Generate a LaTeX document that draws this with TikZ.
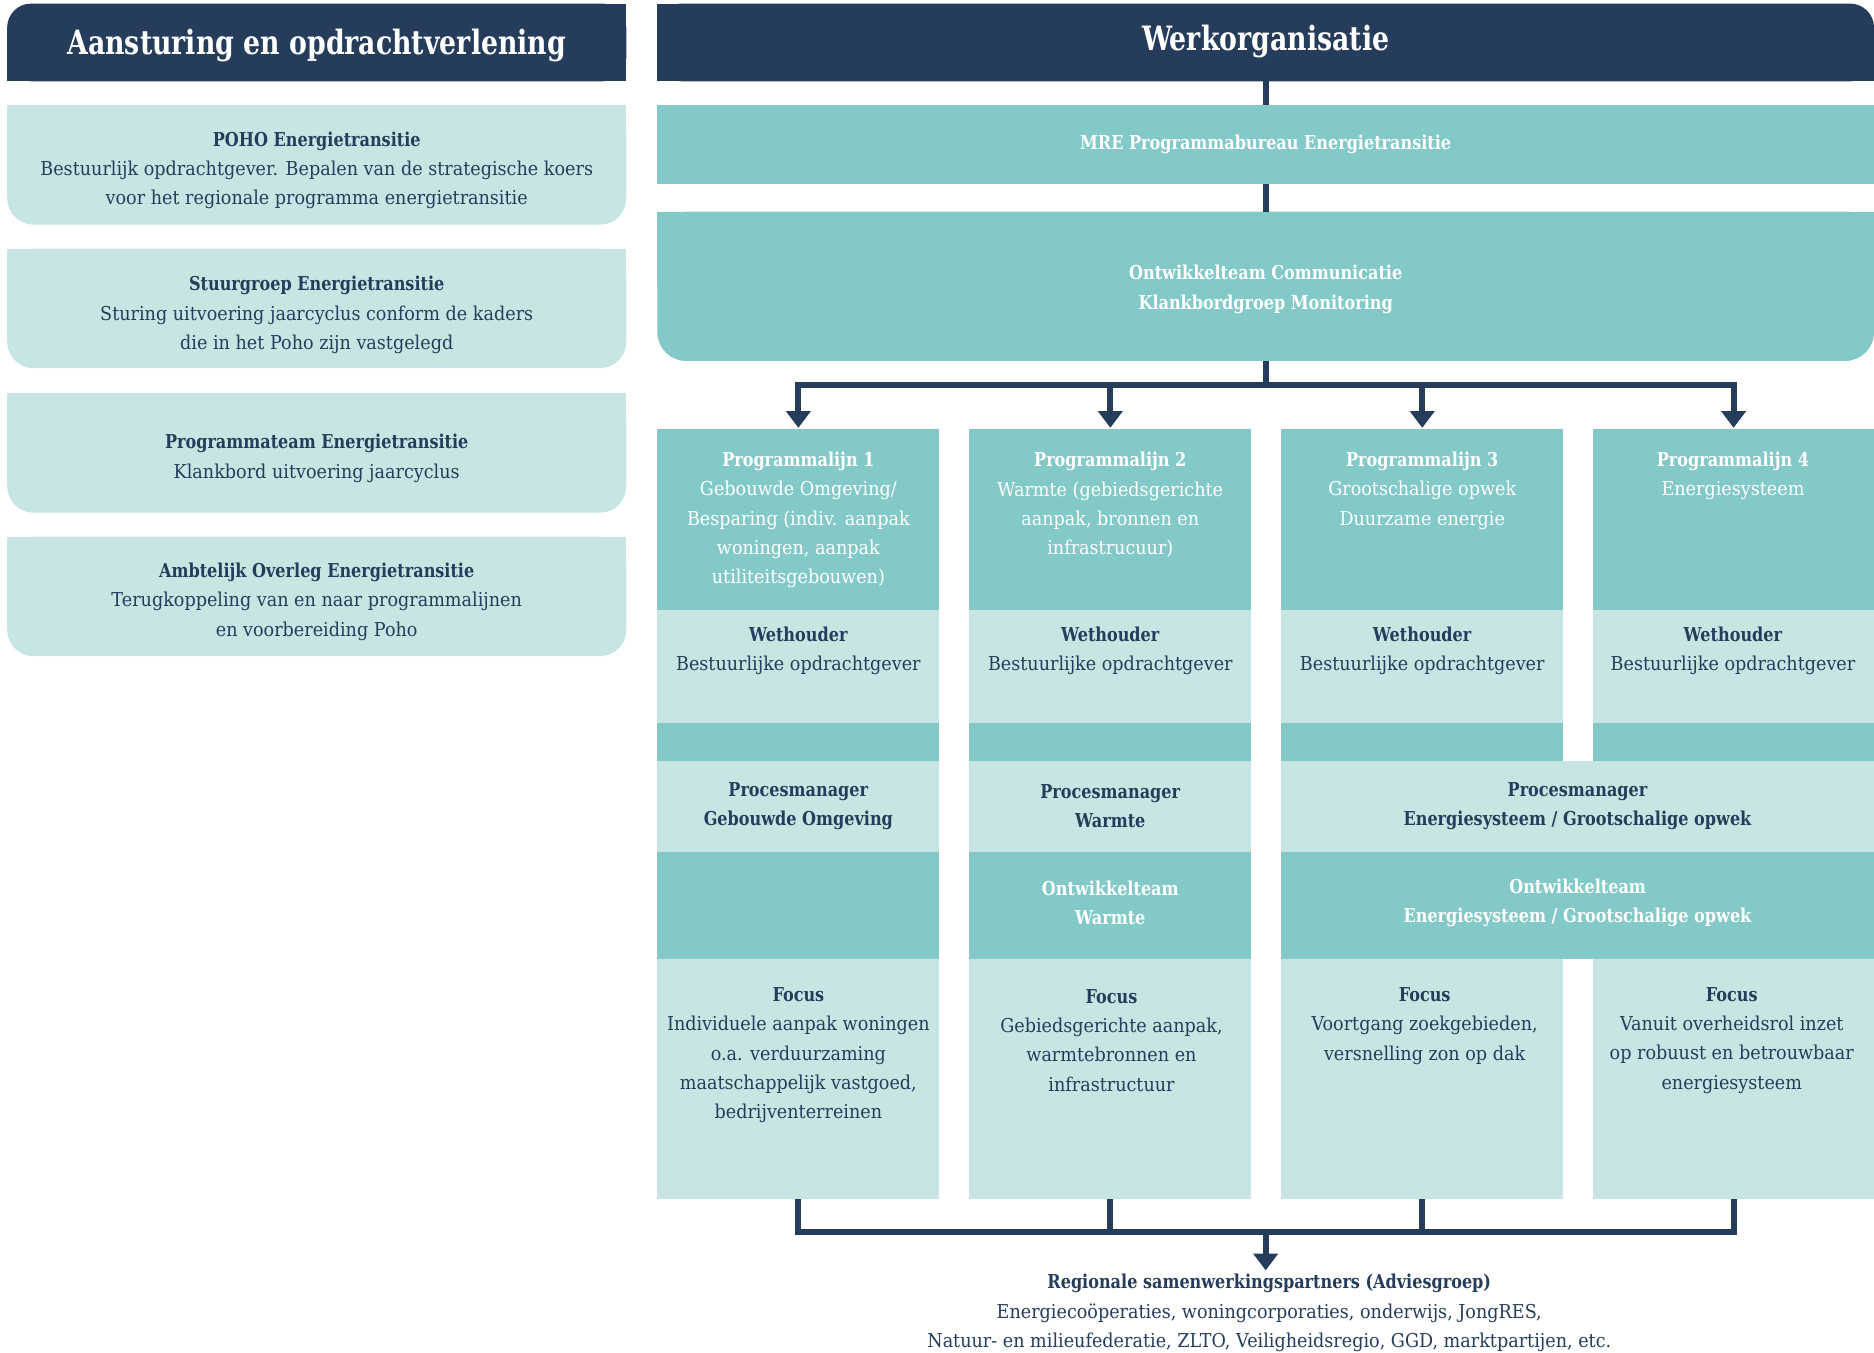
\documentclass[tikz,border=0pt]{standalone}
\usepackage{fontspec}
\setmainfont{DejaVu Serif}[UprightFeatures={FakeStretch=0.92},BoldFeatures={FakeStretch=0.84}]
\newfontfamily\titlefont{DejaVu Serif}[FakeStretch=0.8]
\usetikzlibrary{arrows.meta}
\definecolor{navy}{HTML}{253D5B}
\definecolor{tealM}{HTML}{83C9C8}
\definecolor{lightT}{HTML}{C7E6E3}
\newcommand\mkcell[6]{\node[#1, minimum width=#4pt, minimum height=#5pt] (#6) at (#2,#3) {};}
\tikzset{
 conn/.style={draw=navy, line width=5pt},
 arr/.style={conn, -{Triangle[width=20pt,length=14pt]}},
 cM/.style={fill=tealM, inner sep=0pt, outer sep=0pt, anchor=north west},
 cL/.style={fill=lightT, inner sep=0pt, outer sep=0pt, anchor=north west},
 txt/.style={text=navy, align=center, inner sep=0pt, yshift=-2pt, font=\fontsize{16}{24.5}\selectfont},
 wtxt/.style={txt, text=white},
 head/.style={fill=navy, inner sep=0pt, outer sep=0pt, rounded corners=20pt},
 htxt/.style={text=white, inner sep=0pt, font=\titlefont\bfseries\fontsize{28}{32}\selectfont},
 lbox/.style={fill=lightT, inner sep=0pt, outer sep=0pt, rounded corners=22pt, minimum width=518pt, minimum height=100pt}
}
\begin{document}
\begin{tikzpicture}[x=1pt,y=-1pt]
\useasboundingbox (0,0) rectangle (1568,1132);
% ---- left headers
\fill[navy] (265,3) rectangle (524,68);
\fill[navy] (6,36) rectangle (524,68);
\node[head, minimum width=518pt, minimum height=65pt] (lhead) at (265,35.5) {};
\node[htxt] (lheadt) at (265,38) {Aansturing en opdrachtverlening};
% ---- left boxes
\fill[lightT] (6,88) rectangle (524,138);
\node[lbox] (poho) at (265,138) {};
\node[txt] (pohot) at (265,140.5) {\textbf{POHO Energietransitie}\\Bestuurlijk opdrachtgever. Bepalen van de strategische koers\\voor het regionale programma energietransitie};
\fill[lightT] (6,208) rectangle (524,258);
\node[lbox] (stuur) at (265,258) {};
\node[txt] (stuurt) at (265,261.5) {\textbf{Stuurgroep Energietransitie}\\Sturing uitvoering jaarcyclus conform de kaders\\die in het Poho zijn vastgelegd};
\fill[lightT] (6,329) rectangle (524,379);
\node[lbox] (pteam) at (265,379) {};
\node[txt] (pteamt) at (265,381.5) {\textbf{Programmateam Energietransitie}\\Klankbord uitvoering jaarcyclus};
\fill[lightT] (6,449) rectangle (524,499);
\node[lbox] (ambt) at (265,499) {};
\node[txt] (ambtt) at (265,501.5) {\textbf{Ambtelijk Overleg Energietransitie}\\Terugkoppeling van en naar programmalijnen\\en voorbereiding Poho};
% ---- right header
\fill[navy] (550,3) rectangle (1059,68);
\fill[navy] (550,36) rectangle (1568,68);
\node[head, minimum width=1018pt, minimum height=65pt] (werk) at (1059,35.5) {};
\node[htxt] (werkt) at (1059,35) {Werkorganisatie};
% ---- MRE
\node[fill=tealM, inner sep=0pt, outer sep=0pt, minimum width=1018pt, minimum height=66pt] (mre) at (1059,121) {};
\node[wtxt] (mret) at (1059,119) {\textbf{MRE Programmabureau Energietransitie}};
% ---- Ontwikkelteam communicatie
\fill[tealM] (550,177) rectangle (1568,240);
\node[fill=tealM, inner sep=0pt, outer sep=0pt, rounded corners=24pt, minimum width=1018pt, minimum height=125pt] (ontc) at (1059,239.5) {};
\node[wtxt] (ontct) at (1059,240) {\textbf{Ontwikkelteam Communicatie}\\\textbf{Klankbordgroep Monitoring}};
% ---- cells
\mkcell{cM}{550}{359}{236}{151}{p1}
\mkcell{cM}{811}{359}{236}{151}{p2}
\mkcell{cM}{1072}{359}{236}{151}{p3}
\mkcell{cM}{1333}{359}{235}{151}{p4}
\mkcell{cL}{550}{510}{236}{95}{w1}
\mkcell{cL}{811}{510}{236}{95}{w2}
\mkcell{cL}{1072}{510}{236}{95}{w3}
\mkcell{cL}{1333}{510}{235}{95}{w4}
\mkcell{cM}{550}{605}{236}{32}{s1}
\mkcell{cM}{811}{605}{236}{32}{s2}
\mkcell{cM}{1072}{605}{236}{32}{s3}
\mkcell{cM}{1333}{605}{235}{32}{s4}
\mkcell{cL}{550}{637}{236}{76}{pm1}
\mkcell{cL}{811}{637}{236}{76}{pm2}
\mkcell{cL}{1072}{637}{496}{76}{pm34}
\mkcell{cM}{550}{713}{236}{89}{ot1}
\mkcell{cM}{811}{713}{236}{89}{ot2}
\mkcell{cM}{1072}{713}{496}{89}{ot34}
\mkcell{cL}{550}{802}{236}{201}{f1}
\mkcell{cL}{811}{802}{236}{201}{f2}
\mkcell{cL}{1072}{802}{236}{201}{f3}
\mkcell{cL}{1333}{802}{235}{201}{f4}
% ---- cell texts
\node[wtxt] (p1t) at (668,433) {\textbf{Programmalijn 1}\\Gebouwde Omgeving/\\Besparing (indiv. aanpak\\woningen, aanpak\\utiliteitsgebouwen)};
\node[wtxt] (p2t) at (929,420.5) {\textbf{Programmalijn 2}\\Warmte (gebiedsgerichte\\aanpak, bronnen en\\infrastrucuur)};
\node[wtxt] (p3t) at (1190,408.5) {\textbf{Programmalijn 3}\\Grootschalige opwek\\Duurzame energie};
\node[wtxt] (p4t) at (1450,396) {\textbf{Programmalijn 4}\\Energiesysteem};
\node[txt] (w1t) at (668,542.5) {\textbf{Wethouder}\\Bestuurlijke opdrachtgever};
\node[txt] (w2t) at (929,542.5) {\textbf{Wethouder}\\Bestuurlijke opdrachtgever};
\node[txt] (w3t) at (1190,542.5) {\textbf{Wethouder}\\Bestuurlijke opdrachtgever};
\node[txt] (w4t) at (1450,542.5) {\textbf{Wethouder}\\Bestuurlijke opdrachtgever};
\node[txt] (pm1t) at (668,672.5) {\textbf{Procesmanager}\\\textbf{Gebouwde Omgeving}};
\node[txt] (pm2t) at (929,672.5) {\textbf{Procesmanager}\\\textbf{Warmte}};
\node[txt] (pm34t) at (1320,672.5) {\textbf{Procesmanager}\\\textbf{Energiesysteem / Grootschalige opwek}};
\node[wtxt] (ot2t) at (929,753.5) {\textbf{Ontwikkelteam}\\\textbf{Warmte}};
\node[wtxt] (ot34t) at (1320,753.5) {\textbf{Ontwikkelteam}\\\textbf{Energiesysteem / Grootschalige opwek}};
\node[txt] (f1t) at (668,881) {\textbf{Focus}\\Individuele aanpak woningen\\o.a. verduurzaming\\maatschappelijk vastgoed,\\bedrijventerreinen};
\node[txt] (f2t) at (930,868.5) {\textbf{Focus}\\Gebiedsgerichte aanpak,\\warmtebronnen en\\infrastructuur};
\node[txt] (f3t) at (1192,856.5) {\textbf{Focus}\\Voortgang zoekgebieden,\\versnelling zon op dak};
\node[txt] (f4t) at (1449,868.5) {\textbf{Focus}\\Vanuit overheidsrol inzet\\op robuust en betrouwbaar\\energiesysteem};
% ---- bottom text
\node[txt] (adv) at (1062,1096.5) {\textbf{Regionale samenwerkingspartners (Adviesgroep)}\\Energiecoöperaties, woningcorporaties, onderwijs, JongRES,\\Natuur- en milieufederatie, ZLTO, Veiligheidsregio, GGD, marktpartijen, etc.};
% ---- connectors
\coordinate (topbar) at (1059,322);
\coordinate (botbar) at (1059,1031);
\draw[conn] (werk.south) -- (mre.north);
\draw[conn] (mre.south) -- (ontc.north);
\draw[arr] (ontc.south) -- (topbar) -| ([yshift=1pt]p1.north);
\draw[arr] (topbar) -| ([yshift=1pt]p2.north);
\draw[arr] (topbar) -| ([yshift=1pt]p3.north);
\draw[arr] (ontc.south) -- (topbar) -| ([yshift=1pt]p4.north);
\draw[conn] (f1.south) |- (botbar);
\draw[conn] (f4.south) |- (botbar);
\draw[conn] (f2.south) -- (f2.south |- botbar);
\draw[conn] (f3.south) -- (f3.south |- botbar);
\draw[arr] (botbar) -- ([yshift=3pt]adv.north -| botbar);
\end{tikzpicture}
\end{document}
